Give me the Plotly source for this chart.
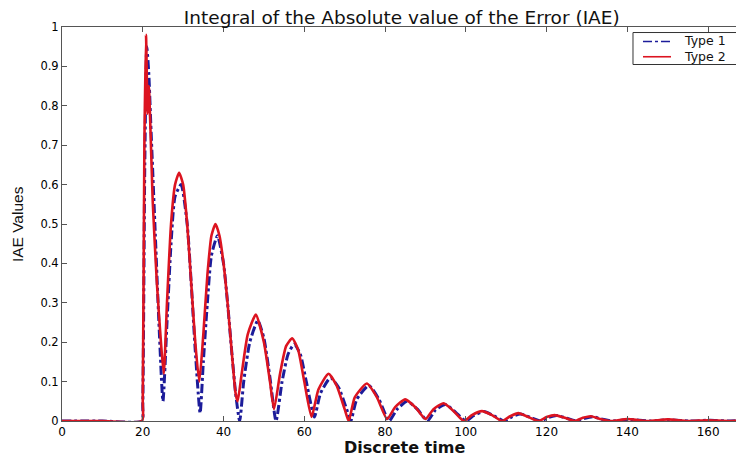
import plotly.graph_objects as go

# Type 1 (blue, dash-dot) key samples
t1_x = [0, 10, 19.8, 20.0, 20.5, 21.0, 21.5, 22, 23, 24, 25, 26, 27, 28, 29.5, 31, 32, 33, 34.2, 35, 36, 37, 38.5,
        40, 41, 42, 43, 44, 45, 46.5, 48.5, 50, 51.5, 53, 54.5, 56, 57.5, 59, 60.5, 62.5, 64, 66.5,
        68.5, 70.5, 71.5, 73, 76, 78.5, 81, 83, 85.5, 88, 90.5, 92.5, 95, 97.5, 100, 102, 104.5, 107,
        109.5, 111.5, 113.5, 116, 118.5, 120.5, 122.5, 125, 127.5, 129.5, 131.5, 133.5, 136.5, 140.5,
        145.5, 150.5, 155.5, 160.5, 165.5, 170]
t1_y = [0, 0, 0, 0.04, 0.65, 0.95, 0.88, 0.75, 0.5, 0.25, 0.05, 0.25, 0.45, 0.57, 0.6, 0.5, 0.35, 0.18, 0.02,
        0.15, 0.3, 0.42, 0.47, 0.4, 0.3, 0.18, 0.07, 0.0, 0.1, 0.2, 0.255, 0.21, 0.11, 0.0, 0.1, 0.17,
        0.195, 0.17, 0.1, 0.01, 0.07, 0.11, 0.085, 0.03, 0.0, 0.055, 0.09, 0.055, 0.0, 0.03, 0.05, 0.03,
        0.0, 0.028, 0.042, 0.022, 0.0, 0.014, 0.024, 0.013, 0.0, 0.011, 0.018, 0.009, 0.0, 0.009, 0.014,
        0.007, 0.0, 0.007, 0.011, 0.005, 0.0, 0.004, 0.0, 0.003, 0.0, 0.002, 0.0, 0.002]

# Type 2 (red, solid) key samples
t2_x = [0, 10, 19.8, 20.0, 20.4, 20.8, 21.2, 21.5, 22.5, 23.5, 24.5, 25.2, 26, 27, 28, 29, 30, 31, 32, 33, 34, 35, 36,
        37, 38, 39, 40, 41, 42, 43, 43.5, 44.5, 46, 48, 50, 51.5, 52.5, 54, 55.5, 57, 58.5, 60, 61.8,
        63.5, 66, 68, 70, 71, 72.5, 75.5, 78, 80.5, 82.5, 85, 87.5, 90, 92, 94.5, 97, 99.5, 101.5, 104,
        106.5, 109, 111, 113, 115.5, 118, 120, 122, 124.5, 127, 129, 131, 133, 136, 140, 145, 150, 155,
        160, 165, 170]
t2_y = [0, 0, 0, 0.05, 0.7, 0.98, 0.78, 0.85, 0.55, 0.35, 0.2, 0.12, 0.3, 0.5, 0.6, 0.63, 0.6, 0.5, 0.35, 0.2, 0.1,
        0.22, 0.37, 0.47, 0.5, 0.47, 0.4, 0.3, 0.18, 0.07, 0.05, 0.12, 0.22, 0.27, 0.2, 0.1, 0.03, 0.12,
        0.19, 0.21, 0.18, 0.1, 0.01, 0.08, 0.12, 0.09, 0.03, 0.0, 0.06, 0.095, 0.06, 0.005, 0.035, 0.055,
        0.035, 0.005, 0.03, 0.045, 0.025, 0.0, 0.015, 0.025, 0.015, 0.0, 0.012, 0.02, 0.01, 0.0, 0.01,
        0.015, 0.008, 0.0, 0.008, 0.012, 0.006, 0.0, 0.005, 0.0, 0.004, 0.0, 0.002, 0.0, 0.002]

series_names = ["Type 1", "Type 2"]
series_colors = ["#1c1c9a", "#dc1420"]

x_ticks = [0, 20, 40, 60, 80, 100, 120, 140, 160]
y_ticks = [0, 0.1, 0.2, 0.3, 0.4, 0.5, 0.6, 0.7, 0.8, 0.9, 1]
y_tick_text = ["0", "0.1", "0.2", "0.3", "0.4", "0.5", "0.6", "0.7", "0.8", "0.9", "1"]

fig = go.Figure()
fig.add_trace(go.Scatter(x=t1_x, y=t1_y, mode="lines", name=series_names[0],
                         line=dict(color=series_colors[0], width=3, dash="dashdot", shape="spline", smoothing=0.55)))
fig.add_trace(go.Scatter(x=t2_x, y=t2_y, mode="lines", name=series_names[1],
                         line=dict(color=series_colors[1], width=2.6, shape="spline", smoothing=0.55)))

wide = "DejaVu Sans, Verdana, sans-serif"
narrow = "Liberation Sans, Arial, sans-serif"
axis_col = "#555555"

# compact MATLAB-style legend box (paper coordinates)
leg_x0, leg_x1, leg_y0, leg_y1 = 0.8397, 0.9926, 0.9048, 0.9860
leg_line_x0, leg_line_x1, leg_text_x, leg_text_y = 0.8544, 0.8956, 0.9118, 0.9452
leg_rows_y = [0.9632, 0.9245]
leg_dash = ["dashdot", "solid"]

shapes = [dict(type="rect", xref="paper", yref="paper", x0=leg_x0, x1=leg_x1, y0=leg_y0, y1=leg_y1,
               line=dict(color="#333333", width=1), fillcolor="white", layer="above")]
annotations = [
    dict(text="<b>Discrete time</b>", x=0.503, y=-0.066, xref="paper", yref="paper",
         xanchor="center", yanchor="middle", showarrow=False,
         font=dict(size=16, family=wide, color="#111")),
    dict(text="IAE Values", x=-0.066, y=0.5, xref="paper", yref="paper", textangle=-90,
         xanchor="center", yanchor="middle", showarrow=False,
         font=dict(size=15.5, family=narrow, color="#111")),
    dict(text="<br>".join(series_names), x=leg_text_x, y=leg_text_y, xref="paper", yref="paper",
         xanchor="left", yanchor="middle", align="left", showarrow=False,
         font=dict(size=12.5, family=wide, color="#111")),
]
for col, dash, ry in zip(series_colors, leg_dash, leg_rows_y):
    shapes.append(dict(type="line", xref="paper", yref="paper", x0=leg_line_x0, x1=leg_line_x1,
                       y0=ry, y1=ry, line=dict(color=col, width=1.6, dash=dash), layer="above"))

# the page body adds an 8px offset; the figure is sized to fill the rest of the window
fig.update_layout(
    width=736, height=452,
    margin=dict(l=54, r=2, t=19, b=39),
    paper_bgcolor="white", plot_bgcolor="white",
    font=dict(family=wide, color="black", size=12),
    title=dict(text="Integral of the Absolute value of the Error (IAE)", x=0.535, xanchor="center",
               xref="container", yref="container", y=1 - 9.5 / 452, yanchor="middle",
               font=dict(size=18.5, family=wide, color="#111")),
    showlegend=False,
    shapes=shapes,
    annotations=annotations,
)
fig.update_xaxes(range=[0, 168.4], tickvals=x_ticks, ticks="inside", ticklen=5, tickcolor=axis_col,
                 showline=True, linecolor=axis_col, linewidth=1, mirror="ticks", showgrid=False,
                 zeroline=False, tickfont=dict(size=12, family=wide), automargin=False)
fig.update_yaxes(range=[0, 1], tickvals=y_ticks, ticktext=y_tick_text, ticks="inside", ticklen=5,
                 tickcolor=axis_col, showline=True, linecolor=axis_col, linewidth=1, mirror="ticks",
                 showgrid=False, zeroline=False, tickfont=dict(size=11.5, family=wide), automargin=False)

fig.write_html("out.html")
